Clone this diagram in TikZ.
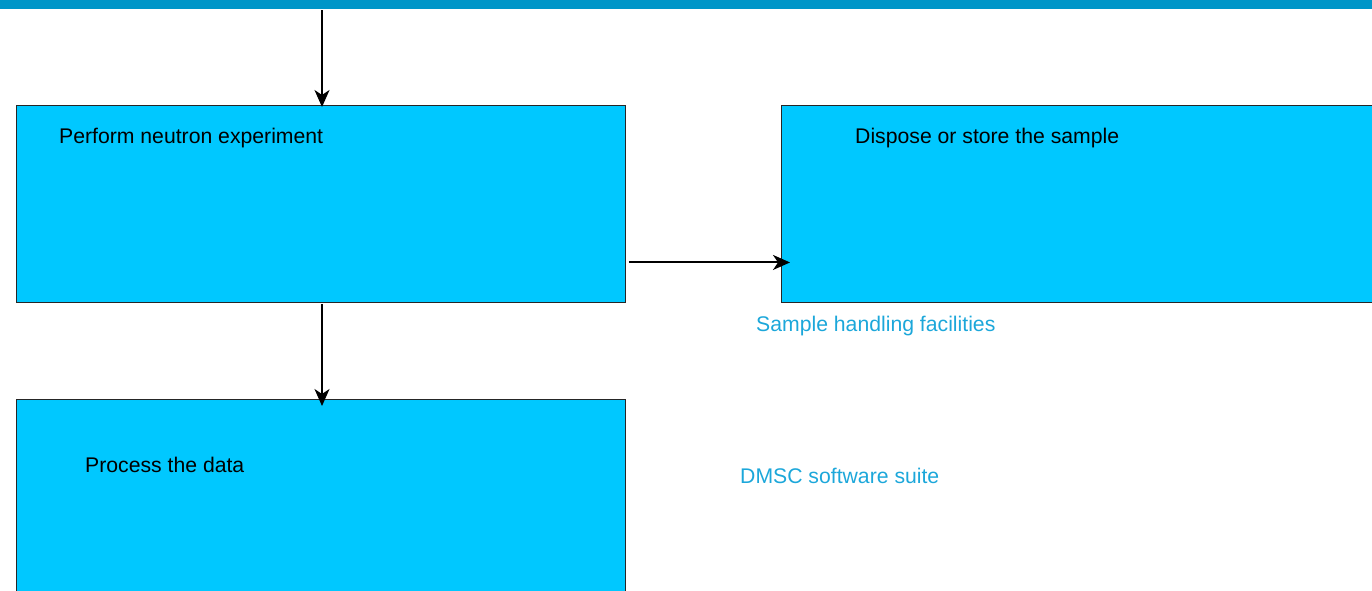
\documentclass[tikz,border=0pt]{standalone}
\usepackage{fontspec}
\setmainfont{Liberation Sans}
\usetikzlibrary{arrows.meta}
\definecolor{barblue}{RGB}{0,150,200}
\definecolor{boxblue}{RGB}{0,200,255}
\definecolor{labelblue}{RGB}{28,167,218}
\tikzset{
  box/.style={draw=black!85, line width=0.9pt, fill=boxblue, rectangle, inner sep=0pt},
  boxtext/.style={anchor=base west, inner sep=0pt, text=black, font=\fontsize{21.2}{25}\selectfont},
  bluetext/.style={anchor=base west, inner sep=0pt, text=labelblue, font=\fontsize{21.2}{25}\selectfont},
  arr/.style={draw=black, line width=2pt, -{Stealth[length=17pt,width=15pt,inset=5pt]}}
}
\begin{document}
\begin{tikzpicture}[x=1pt,y=-1pt]
\useasboundingbox (0,0) rectangle (1372,590);
\clip (0,0) rectangle (1372,590);
\fill[barblue] (0,0) rectangle (1372,9);
\node[box, minimum width=609pt, minimum height=197pt, anchor=north west] (perform) at (16,105) {};
\node[box, minimum width=620pt, minimum height=197pt, anchor=north west] (dispose) at (781,105) {};
\node[box, minimum width=609pt, minimum height=220pt, anchor=north west] (process) at (16,399) {};
\node[boxtext] (t1) at (59,143) {Perform neutron experiment};
\node[boxtext] (t2) at (855,143) {Dispose or store the sample};
\node[boxtext] (t3) at (85,472) {Process the data};
\node[bluetext] (l1) at (756,331) {Sample handling facilities};
\node[bluetext] (l2) at (740,483) {DMSC software suite};
\coordinate (start) at (322,10);
\draw[arr, shorten >=-2pt] (start) -- (start |- perform.north);
\draw[arr, shorten <=1pt, shorten >=-7pt] (start |- perform.south) -- (start |- process.north);
\draw[arr, shorten <=3pt, shorten >=-9pt] ([yshift=-58.5pt]perform.east) -- ([yshift=-58.5pt]dispose.west);
\end{tikzpicture}
\end{document}
